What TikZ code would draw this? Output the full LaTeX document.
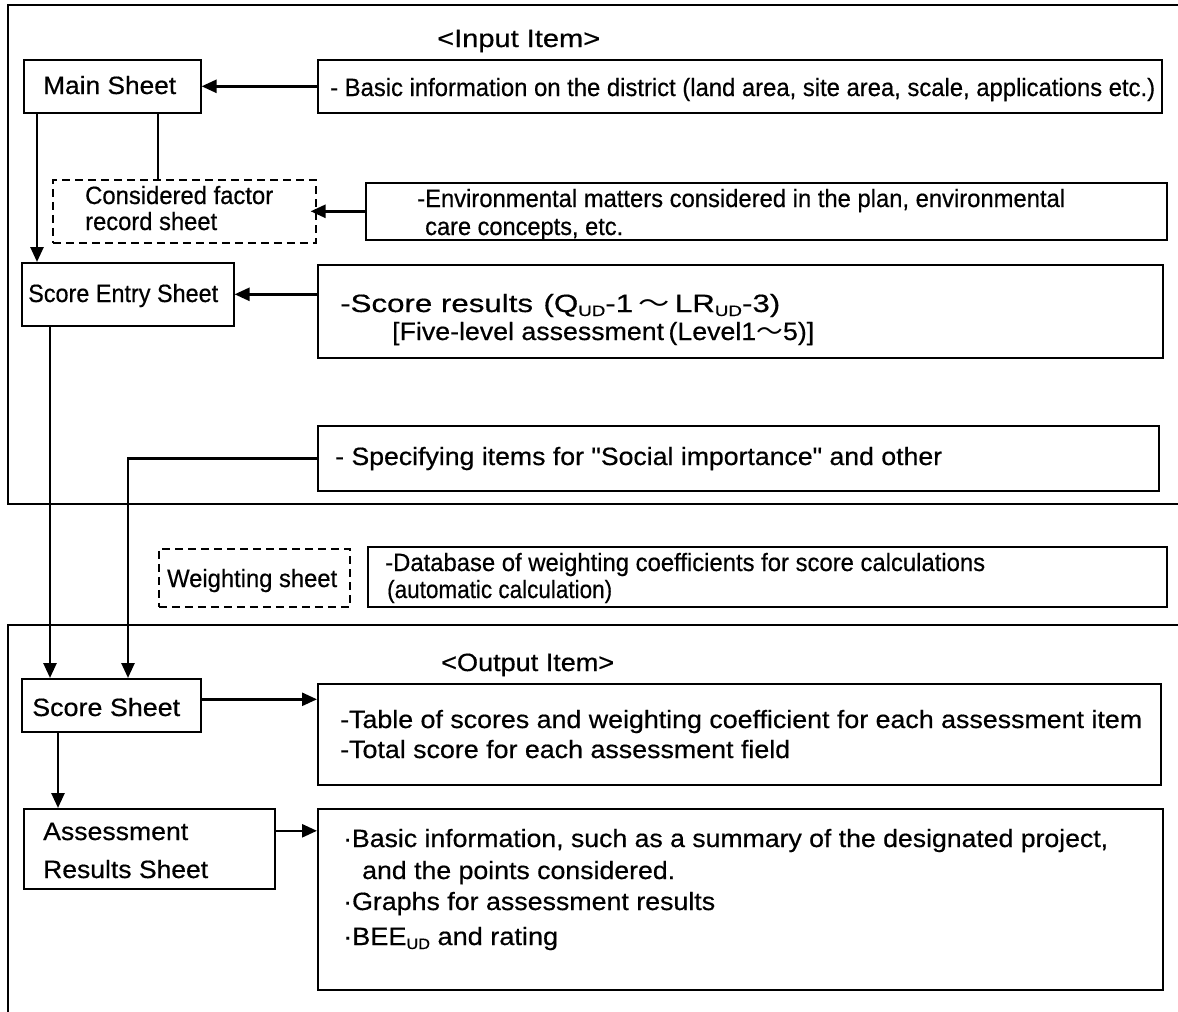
\documentclass[tikz,border=0pt]{standalone}
\usepackage{fontspec}
\setmainfont{Liberation Sans}
\newfontfamily\heavyfont{Liberation Sans}[FakeBold=0.5]
\newfontfamily\cjkfont{Noto Sans CJK JP}
\usepackage{graphicx}
\usetikzlibrary{arrows.meta}
\newsavebox\fitbox
\newcommand\fitw[2]{\sbox\fitbox{#2}\pgfmathsetmacro\fitr{#1/\the\wd\fitbox}\scalebox{\fitr}[1]{\usebox\fitbox}}
\newcommand\dsub[1]{\raisebox{-4pt}{\fontsize{15}{15}\selectfont #1}}
\newcommand\wtilde{{\cjkfont ～}}
\newcommand\sq{{\XeTeXglyph\numexpr\XeTeXcharglyph"22\relax}}
\tikzset{
  bx/.style={draw, line width=1.6pt, inner sep=0pt, anchor=north west},
  dbx/.style={bx, dash pattern=on 8pt off 5pt},
  tx/.style={inner sep=0pt, anchor=base west, font=\heavyfont\fontsize{25}{29}\selectfont},
  frame/.style={line width=1.6pt},
  arr/.style={line width=2.6pt, -{Triangle[length=15pt,width=13pt]}},
  ln/.style={line width=1.6pt}
}
\begin{document}
\begin{tikzpicture}[x=1pt,y=-1pt]
\useasboundingbox (0,0) rectangle (1178,1012);
% frames
\draw[frame] (1178,5) -- (8,5) -- (8,504) -- (1178,504);
\draw[frame] (1178,625) -- (8,625) -- (8,1012);
% boxes
\node[bx, minimum width=177pt, minimum height=53pt] (main) at (23,59) {};
\node[bx, minimum width=844pt, minimum height=53pt] (basic) at (317,59) {};
\node[dbx, minimum width=263pt, minimum height=63pt] (cf) at (52,179) {};
\node[bx, minimum width=801pt, minimum height=57pt] (env) at (365,182) {};
\node[bx, minimum width=212pt, minimum height=63pt] (se) at (21,262) {};
\node[bx, minimum width=845pt, minimum height=93pt] (sr) at (317,264) {};
\node[bx, minimum width=841pt, minimum height=65pt] (spec) at (317,425) {};
\node[dbx, minimum width=191pt, minimum height=58pt] (ws) at (158,548) {};
\node[bx, minimum width=799pt, minimum height=60pt] (db) at (367,546) {};
\node[bx, minimum width=179pt, minimum height=53pt] (ss) at (21,678) {};
\node[bx, minimum width=843pt, minimum height=101pt] (tbl) at (317,683) {};
\node[bx, minimum width=251pt, minimum height=80pt] (ar) at (23,808) {};
\node[bx, minimum width=845pt, minimum height=181pt] (res) at (317,808) {};
% texts
\node[tx] (tin) at (437,47) {\fitw{163}{<Input Item>}};
\node[tx] (tmain) at (43,94) {\fitw{133}{Main Sheet}};
\node[tx] (tbasic) at (330,96) {\fitw{825}{- Basic information on the district (land area, site area, scale, applications etc.)}};
\node[tx] (tcf1) at (85,204) {\fitw{188}{Considered factor}};
\node[tx] (tcf2) at (85,230) {\fitw{132}{record sheet}};
\node[tx] (tenv1) at (417,207) {\fitw{648}{-Environmental matters considered in the plan, environmental}};
\node[tx] (tenv2) at (425,235) {\fitw{198}{care concepts, etc.}};
\node[tx] (tse) at (28,302) {\fitw{190}{Score Entry Sheet}};
\node[tx] (tsr1) at (340,312) {\fitw{440}{-Score results\,\,(Q\dsub{UD}-1\,\wtilde\,LR\dsub{UD}-3)}};
\node[tx] (tsr2) at (392,340) {\fitw{422}{[Five-level assessment\,(Level1\wtilde 5)]}};
\node[tx] (tspec) at (335,465) {\fitw{607}{- Specifying items for \sq Social importance\sq\ and other}};
\node[tx] (tws) at (167,587) {\fitw{170}{Weighting sheet}};
\node[tx] (tdb1) at (385,571) {\fitw{600}{-Database of weighting coefficients for score calculations}};
\node[tx] (tdb2) at (387,598) {\fitw{225}{(automatic calculation)}};
\node[tx] (tout) at (441,671) {\fitw{173}{<Output Item>}};
\node[tx] (tss) at (32,716) {\fitw{148}{Score Sheet}};
\node[tx] (ttbl1) at (340,728) {\fitw{802}{-Table of scores and weighting coefficient for each assessment item}};
\node[tx] (ttbl2) at (340,758) {\fitw{450}{-Total score for each assessment field}};
\node[tx] (tar1) at (43,840) {\fitw{145}{Assessment}};
\node[tx] (tar2) at (43,878) {\fitw{165}{Results Sheet}};
\node[tx] (tres1) at (343,847) {\fitw{765}{·Basic information, such as a summary of the designated project,}};
\node[tx] (tres2) at (362,879) {\fitw{313}{and the points considered.}};
\node[tx] (tres3) at (343,910) {\fitw{372}{·Graphs for assessment results}};
\node[tx] (tres4) at (343,945) {\fitw{215}{·BEE\dsub{UD} and rating}};
% connectors
\draw[arr] (basic.west) -- (main.east);
\draw[ln] ([xshift=135pt]main.south west) -- ([xshift=106pt]cf.north west);
\draw[arr, shorten >=-6pt] (env.west) -- (cf.east);
\draw[arr] ([xshift=14pt]main.south west) -- ([xshift=16pt]se.north west);
\draw[arr] (se.east -| sr.west) -- (se.east);
\draw[arr] ([xshift=29pt]se.south west) -- ([xshift=29pt]ss.north west);
\draw[arr] (spec.west) -| ([xshift=107pt]ss.north west);
\draw[arr] ([yshift=6pt]ss.east) -- ([yshift=6pt]ss.east -| tbl.west);
\draw[arr] ([xshift=37pt]ss.south west) -- ([xshift=35pt]ar.north west);
\draw[arr] ([yshift=18pt]ar.east) -- ([yshift=18pt]ar.east -| res.west);
\end{tikzpicture}
\end{document}
